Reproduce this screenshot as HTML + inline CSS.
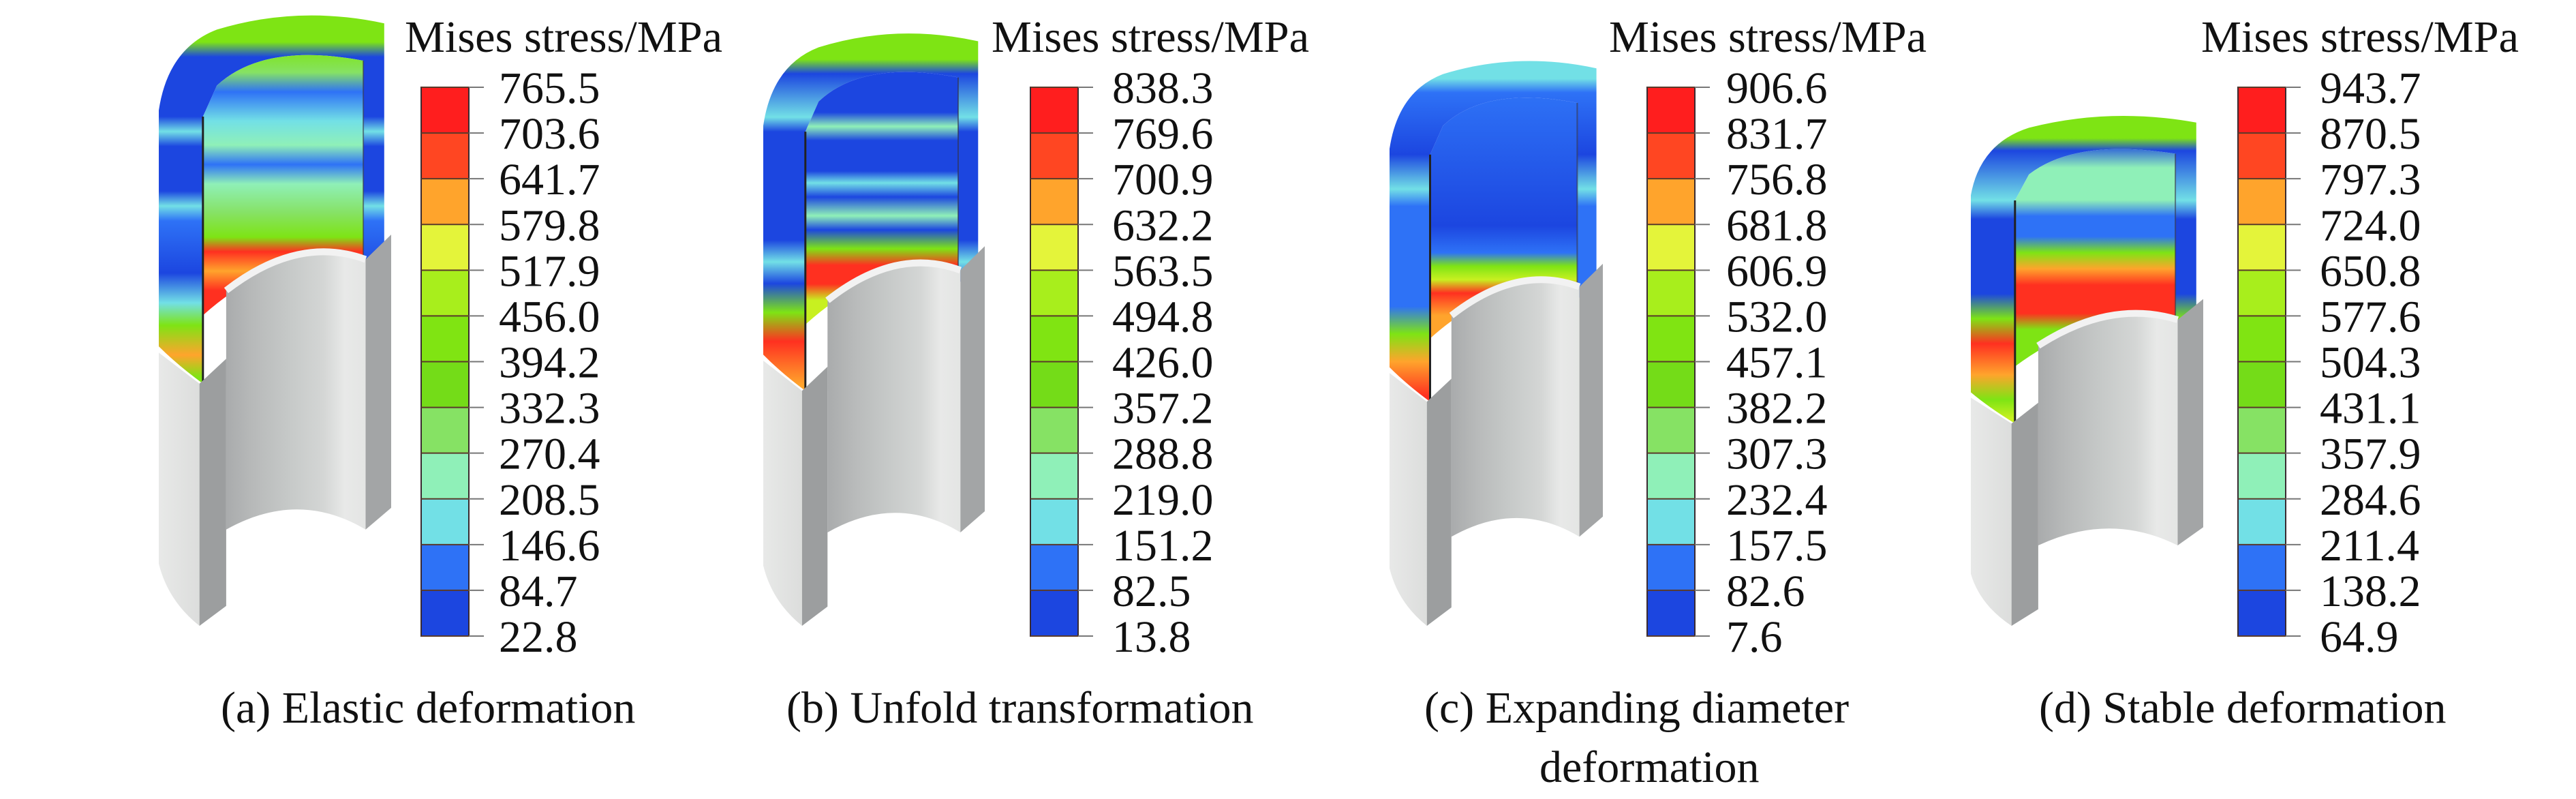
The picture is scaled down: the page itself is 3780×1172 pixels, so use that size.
<!DOCTYPE html>
<html><head><meta charset="utf-8">
<style>
html,body{margin:0;padding:0;background:#fff;}
svg{display:block;}
svg text{font-family:"Liberation Serif","DejaVu Serif",serif;fill:#111;}
</style></head>
<body>
<svg id="fig" xmlns="http://www.w3.org/2000/svg" width="3780" height="1172" viewBox="0 0 3780 1172" font-family="Liberation Serif, DejaVu Serif, serif">
<rect width="3780" height="1172" fill="#fff"/>
<defs id="defs"></defs>
</svg>
<script>
// Colorbar tick labels per panel (top to bottom)
const ticksA = ["765.5","703.6","641.7","579.8","517.9","456.0","394.2","332.3","270.4","208.5","146.6","84.7","22.8"];
const ticksB = ["838.3","769.6","700.9","632.2","563.5","494.8","426.0","357.2","288.8","219.0","151.2","82.5","13.8"];
const ticksC = ["906.6","831.7","756.8","681.8","606.9","532.0","457.1","382.2","307.3","232.4","157.5","82.6","7.6"];
const ticksD = ["943.7","870.5","797.3","724.0","650.8","577.6","504.3","431.1","357.9","284.6","211.4","138.2","64.9"];
const bandColors = ["#ff1e1e","#ff4622","#ffa42c","#e4f43a","#a8ee1c","#80e412","#74dc18","#86e264","#8ff0b8","#72e0e6","#2e72f6","#1c46e0"];
const captions = [["(a) Elastic deformation"],["(b) Unfold transformation"],["(c) Expanding diameter","deformation"],["(d) Stable deformation"]];

const NS="http://www.w3.org/2000/svg";
const svg=document.getElementById('fig');
const defs=document.getElementById('defs');
const FONT='"Liberation Serif", "DejaVu Serif", serif';
function mk(tag,attrs,parent){const e=document.createElementNS(NS,tag);for(const k in attrs)e.setAttribute(k,attrs[k]);if(tag==='text'){e.style.fontFamily=FONT;e.setAttribute('font-family','Liberation Serif, serif');}(parent||svg).appendChild(e);return e;}
function grad(id,stops,horizontal,units){const a={id:id,x1:0,y1:0,x2:horizontal?1:0,y2:horizontal?0:1};if(units){Object.assign(a,units);}const g=mk('linearGradient',a,defs);stops.forEach(s=>mk('stop',{offset:s[0],'stop-color':s[1]},g));}

const B='#1c46e0',b2='#2e72f6',C='#72e0e6',M='#8ff0b8',G='#7ee414',Y='#c8f020',O='#ffa42c',R='#ff3020',LG='#86e264';
const panels=[
 {L:233,T:7,W:341,Bt:918,bar:618,lab:732,title:594,cap:[324],ticks:ticksA,
  outer:[[0,G],[0.1,G],[0.14,B],[0.3,B],[0.34,C],[0.38,B],[0.5,B],[0.54,C],[0.58,b2],[0.72,B],[0.8,C],[0.86,G],[0.94,O],[1,G]],
  inner:[[0,G],[0.1,LG],[0.18,b2],[0.3,C],[0.4,M],[0.48,b2],[0.56,M],[0.68,LG],[0.78,G],[0.84,R],[0.92,O],[1,R]]},
 {L:1120,T:34,W:325,Bt:918,bar:1512,lab:1632,title:1455,cap:[1154],ticks:ticksB,
  outer:[[0,G],[0.1,G],[0.14,B],[0.26,C],[0.3,B],[0.6,B],[0.66,C],[0.72,B],[0.8,G],[0.88,R],[1,O]],
  inner:[[0,B],[0.2,B],[0.26,M],[0.32,B],[0.45,B],[0.5,C],[0.56,B],[0.64,M],[0.7,B],[0.78,G],[0.85,R],[0.93,R],[1,Y]]},
 {L:2039,T:75,W:313,Bt:918,bar:2417,lab:2533,title:2361,cap:[2090,2259],ticks:ticksC,
  outer:[[0,C],[0.08,C],[0.12,b2],[0.3,B],[0.4,C],[0.45,b2],[0.74,b2],[0.82,G],[0.9,O],[1,R]],
  inner:[[0,b2],[0.6,B],[0.72,b2],[0.78,G],[0.84,Y],[0.9,R],[1,O]]},
 {L:2892,T:157,W:341,Bt:918,bar:3284,lab:3404,title:3230,cap:[2992],ticks:ticksD,
  outer:[[0,G],[0.1,G],[0.14,B],[0.3,C],[0.36,B],[0.6,B],[0.68,G],[0.76,R],[0.86,O],[0.94,G],[1,Y]],
  inner:[[0,B],[0.12,M],[0.28,M],[0.36,b2],[0.46,b2],[0.54,G],[0.62,O],[0.7,R],[0.84,R],[0.92,G],[1,G]]}
];
grad('grayInner',[[0,'#a9abac'],[0.2,'#b8baba'],[0.45,'#c6c9c8'],[0.7,'#d4d6d5'],[0.85,'#e8e9e8'],[1,'#e4e5e4']],true);
grad('grayLeft',[[0,'#e8e9e8'],[1,'#dcdddc']],true);

panels.forEach((p,i)=>{
  const g=mk('g',{});
  
  
  const H=p.Bt-p.T;
  const X=u=>(p.L+u*p.W).toFixed(1), Yv=v=>(p.T+v*H).toFixed(1);
  grad('outer'+i,p.outer,false,{gradientUnits:'userSpaceOnUse',x1:p.L,x2:p.L,y1:Yv(0),y2:Yv(0.6)});
  grad('inner'+i,p.inner,false,{gradientUnits:'userSpaceOnUse',x1:p.L,x2:p.L,y1:Yv(0.07),y2:Yv(0.46)});
  const P=(pts)=>pts.map(s=>X(s[0])+','+Yv(s[1])).join(' ');
  const model=mk('g',{},g);
  
  
  const sh=mk('path',{d:'M'+P([[0,0.17]])+' Q'+P([[0.04,0.07],[0.25,0.04]])+' Q'+P([[0.6,0.0],[0.97,0.03]])+' L'+P([[0.97,0.42],[0.88,0.43],[0.88,0.09]])+' Q'+P([[0.45,0.06],[0.25,0.13]])+' L'+P([[0.19,0.18],[0.19,0.61]])+' Q'+P([[0.08,0.58],[0,0.55]])+' Z',fill:'url(#outer'+i+')'},model);
  
  
  const iw=mk('path',{d:'M'+P([[0.19,0.18],[0.25,0.13]])+' Q'+P([[0.45,0.06],[0.88,0.09]])+' L'+P([[0.88,0.43]])+' Q'+P([[0.55,0.38],[0.19,0.5]])+' Z',fill:'url(#inner'+i+')'},model);
  
  
  mk('line',{x1:X(0.19),y1:Yv(0.18),x2:X(0.19),y2:Yv(0.61),stroke:'#222','stroke-width':3},model);
  mk('line',{x1:X(0.88),y1:Yv(0.09),x2:X(0.88),y2:Yv(0.42),stroke:'#334','stroke-width':2,opacity:0.6},model);
  const gl=mk('path',{d:'M'+P([[0,0.56],[0.175,0.61],[0.175,1.0]])+' Q'+P([[0.04,0.96],[0,0.9]])+' Z',fill:'url(#grayLeft)'},model);
  
  
  const gc=mk('path',{d:'M'+P([[0.175,0.61],[0.29,0.57],[0.29,0.968],[0.175,1.0]])+' Z',fill:'#9c9e9f'},model);
  
  
  const gi=mk('path',{d:'M'+P([[0.29,0.46]])+' Q'+P([[0.6,0.37],[0.89,0.41]])+' L'+P([[0.89,0.845]])+' Q'+P([[0.6,0.78],[0.29,0.845]])+' Z',fill:'url(#grayInner)'},model);
  
  
  mk('path',{d:'M'+P([[0.29,0.46]])+' Q'+P([[0.6,0.37],[0.89,0.41]]),fill:'none',stroke:'#f2f2f2','stroke-width':10},model);
  const gr=mk('path',{d:'M'+P([[0.89,0.41],[1,0.37],[1,0.81],[0.89,0.845]])+' Z',fill:'#a3a5a6'},model);
  
  

  const cb=mk('g',{},g);
  
  
  const top=128,bot=933,n=p.ticks.length-1,step=(bot-top)/n;
  bandColors.forEach((c,k)=>{
    const r=mk('rect',{x:p.bar,y:(top+k*step).toFixed(1),width:70,height:(step+0.5).toFixed(1),fill:c},cb);
    
    
  });
  mk('rect',{x:p.bar,y:top,width:70,height:bot-top,fill:'none',stroke:'#3a2a30','stroke-width':2},cb);
  p.ticks.forEach((t,k)=>{
    const y=top+k*step;
    mk('line',{x1:p.bar,y1:y,x2:p.bar+70,y2:y,stroke:'#5a3a2a','stroke-width':2},cb);
    mk('line',{x1:p.bar+70,y1:y,x2:p.bar+92,y2:y,stroke:'#777','stroke-width':2},cb);
    const tx=mk('text',{x:p.lab,y:(y+23).toFixed(1),'font-size':66},cb);
    tx.textContent=t;
    
    
  });
  const tt=mk('text',{x:p.title,y:76,'font-size':66,textLength:466,lengthAdjust:'spacingAndGlyphs'},g);
  tt.textContent='Mises stress/MPa';
  
  
  captions[i].forEach((line,k)=>{
    const c=mk('text',{x:p.cap[k],y:k===0?1060:1147,'font-size':66},g);
    c.textContent=line;
    
    
  });
});
</script>
</body></html>
